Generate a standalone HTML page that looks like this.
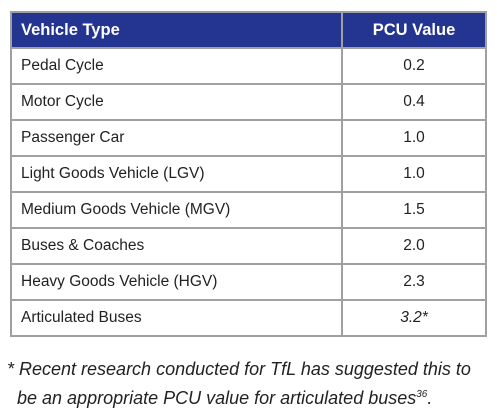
<!DOCTYPE html>
<html><head><meta charset="utf-8"><style>
body{margin:0;width:497px;height:415px;background:#fff;font-family:"Liberation Sans",sans-serif;color:#222;position:relative;overflow:hidden}
table{position:absolute;left:10px;top:11px;width:477px;border-collapse:collapse;table-layout:fixed}
td,th{border:2px solid #a0a0a0;height:34px;padding:0 9px;font-size:15.5px;font-weight:normal}
th{background:#243591;color:#fff;font-weight:bold;text-align:left;font-size:16.5px}
td.v,th.v{text-align:center}
.fn{position:absolute;left:7px;top:356px;font-size:18px;font-style:italic;line-height:26px;color:#222;white-space:nowrap}
sup{font-size:10px}
</style></head><body>
<table>
<colgroup><col style="width:331px"><col></colgroup>
<tr><th>Vehicle Type</th><th class="v">PCU Value</th></tr>
<tr><td>Pedal Cycle</td><td class="v">0.2</td></tr>
<tr><td>Motor Cycle</td><td class="v">0.4</td></tr>
<tr><td>Passenger Car</td><td class="v">1.0</td></tr>
<tr><td>Light Goods Vehicle (LGV)</td><td class="v">1.0</td></tr>
<tr><td>Medium Goods Vehicle (MGV)</td><td class="v">1.5</td></tr>
<tr><td>Buses &amp; Coaches</td><td class="v">2.0</td></tr>
<tr><td>Heavy Goods Vehicle (HGV)</td><td class="v">2.3</td></tr>
<tr><td>Articulated Buses</td><td class="v"><i>3.2*</i></td></tr>
</table>
<div class="fn">* Recent research conducted for TfL has suggested this to<br>&nbsp;&nbsp;be an appropriate PCU value for articulated buses<sup>36</sup>.</div>
</body></html>
